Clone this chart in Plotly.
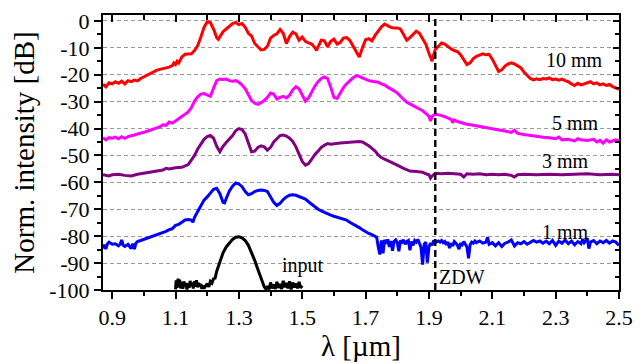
import plotly.graph_objects as go

# ---------------- data ----------------
red_x = [0.871,0.88,0.89,0.90,0.91,0.92,0.93,0.94,0.95,0.96,0.97,0.98,0.99,1.00,1.01,1.02,1.03,1.04,1.05,1.06,1.07,1.08,1.09,1.095,1.10,1.105,1.11,1.12,1.13,1.14,1.15,1.16,1.17,1.18,1.19,1.20,1.21,1.22,1.23,1.235,1.24,1.25,1.26,1.27,1.28,1.29,1.30,1.31,1.32,1.33,1.34,1.35,1.36,1.37,1.38,1.39,1.40,1.41,1.42,1.43,1.44,1.45,1.46,1.47,1.48,1.49,1.50,1.51,1.52,1.53,1.54,1.545,1.55,1.56,1.57,1.58,1.59,1.60,1.61,1.62,1.63,1.64,1.65,1.66,1.67,1.68,1.69,1.70,1.71,1.72,1.73,1.74,1.75,1.76,1.77,1.78,1.79,1.80,1.81,1.82,1.83,1.84,1.85,1.86,1.87,1.88,1.89,1.90,1.91,1.915,1.92,1.93,1.94,1.95,1.96,1.97,1.98,1.99,2.00,2.01,2.02,2.03,2.04,2.05,2.06,2.07,2.08,2.09,2.10,2.11,2.12,2.13,2.14,2.15,2.16,2.17,2.18,2.19,2.20,2.21,2.22,2.23,2.24,2.25,2.26,2.27,2.28,2.29,2.30,2.31,2.32,2.33,2.34,2.35,2.36,2.37,2.38,2.39,2.40,2.41,2.42,2.43,2.44,2.45,2.46,2.47,2.48,2.49,2.50]
red_y = [-23.5,-24.5,-23.0,-23.4,-22.6,-23.2,-22.4,-23.4,-22.2,-22.6,-22.0,-22.3,-21.4,-20.8,-20.2,-19.4,-18.8,-18.4,-18.0,-17.8,-17.6,-17.2,-16.6,-15.6,-16.2,-15.0,-15.6,-13.4,-12.4,-12.4,-12.2,-11.0,-9.2,-6.0,-2.4,-0.3,-0.6,-3.0,-6.2,-6.8,-5.8,-4.0,-3.0,-1.8,-1.0,-0.6,-1.4,-1.0,-2.4,-4.6,-5.6,-8.4,-9.6,-10.8,-10.6,-9.4,-6.4,-5.4,-4.8,-3.2,-4.6,-8.4,-5.8,-4.2,-4.8,-7.2,-6.0,-7.6,-8.2,-8.6,-10.0,-11.0,-9.6,-7.2,-7.4,-9.6,-7.6,-6.8,-8.6,-8.0,-6.4,-6.2,-7.2,-9.4,-11.6,-13.4,-10.0,-7.0,-6.6,-7.4,-5.4,-3.8,-2.2,-1.2,-1.8,-2.4,-2.6,-2.6,-3.0,-5.0,-7.2,-6.2,-5.0,-3.8,-4.6,-6.6,-8.6,-12.0,-15.0,-12.4,-10.6,-9.4,-8.2,-8.6,-9.6,-10.4,-11.0,-11.4,-12.6,-14.2,-16.2,-15.6,-14.0,-13.2,-12.6,-12.2,-12.6,-12.4,-14.2,-16.8,-18.8,-18.2,-16.8,-16.0,-15.6,-16.0,-16.6,-17.4,-19.0,-20.2,-21.4,-21.9,-21.5,-21.8,-21.4,-21.6,-21.2,-21.8,-21.6,-22.0,-21.6,-22.2,-22.6,-23.4,-24.0,-23.2,-23.8,-23.4,-23.0,-22.6,-23.4,-23.0,-23.8,-23.4,-24.0,-23.6,-24.4,-24.8,-25.4]

mag_x = [0.871,0.88,0.89,0.90,0.91,0.92,0.93,0.94,0.95,0.96,0.97,0.98,0.99,1.00,1.01,1.02,1.03,1.04,1.05,1.06,1.07,1.08,1.09,1.10,1.11,1.12,1.13,1.14,1.15,1.16,1.17,1.18,1.19,1.20,1.21,1.22,1.23,1.24,1.25,1.26,1.27,1.28,1.29,1.30,1.31,1.32,1.33,1.34,1.35,1.36,1.37,1.38,1.39,1.40,1.41,1.42,1.43,1.44,1.45,1.46,1.47,1.48,1.49,1.50,1.51,1.52,1.53,1.54,1.55,1.56,1.57,1.58,1.59,1.60,1.61,1.62,1.63,1.64,1.65,1.66,1.67,1.68,1.69,1.70,1.71,1.72,1.73,1.74,1.75,1.76,1.77,1.78,1.79,1.80,1.81,1.82,1.83,1.84,1.85,1.86,1.87,1.88,1.89,1.90,1.905,1.91,1.92,1.93,1.94,1.95,1.96,1.97,1.975,1.98,1.99,2.00,2.02,2.04,2.06,2.08,2.10,2.12,2.14,2.16,2.17,2.18,2.20,2.22,2.24,2.26,2.28,2.30,2.31,2.32,2.34,2.36,2.37,2.38,2.40,2.42,2.43,2.44,2.45,2.46,2.47,2.48,2.49,2.50]
mag_y = [-43.4,-44.2,-43.4,-43.6,-43.2,-43.8,-43.0,-43.6,-43.0,-42.8,-42.4,-42.0,-41.8,-41.4,-41.0,-40.6,-40.2,-39.8,-39.4,-38.6,-38.8,-37.6,-38.0,-37.2,-36.4,-35.6,-34.6,-33.8,-32.2,-29.8,-28.2,-27.2,-27.0,-27.4,-28.0,-25.0,-22.2,-21.6,-21.8,-21.6,-22.2,-22.4,-22.2,-22.8,-23.8,-25.2,-27.6,-29.6,-30.6,-31.0,-30.4,-29.6,-28.4,-26.8,-27.2,-29.0,-28.4,-28.0,-28.6,-27.6,-25.6,-24.4,-25.2,-27.6,-29.8,-28.6,-26.4,-24.2,-22.6,-21.4,-20.8,-21.4,-24.6,-28.4,-28.8,-26.6,-24.8,-23.4,-22.2,-21.2,-20.4,-20.6,-21.2,-21.8,-22.2,-22.4,-22.6,-22.8,-23.4,-23.8,-24.6,-25.2,-26.0,-26.8,-28.2,-29.2,-30.2,-30.8,-31.6,-32.2,-32.8,-33.4,-34.4,-35.4,-37.2,-35.4,-34.6,-34.8,-35.2,-35.6,-36.0,-36.6,-37.8,-36.8,-37.4,-37.8,-38.4,-38.8,-39.2,-39.8,-40.2,-40.6,-41.0,-41.4,-40.6,-41.8,-42.2,-42.6,-43.0,-43.2,-43.4,-43.8,-43.2,-44.2,-44.0,-44.6,-43.8,-44.2,-44.4,-44.0,-45.0,-44.4,-45.4,-44.2,-45.0,-44.6,-44.2,-44.6]

pur_x = [0.871,0.89,0.90,0.92,0.94,0.96,0.98,1.00,1.02,1.04,1.06,1.07,1.08,1.10,1.12,1.14,1.15,1.16,1.17,1.18,1.19,1.20,1.21,1.22,1.23,1.24,1.25,1.26,1.27,1.28,1.29,1.30,1.31,1.32,1.33,1.34,1.35,1.36,1.37,1.38,1.39,1.40,1.41,1.42,1.43,1.44,1.45,1.46,1.47,1.48,1.49,1.50,1.51,1.52,1.53,1.54,1.55,1.56,1.57,1.58,1.59,1.60,1.62,1.64,1.66,1.68,1.69,1.70,1.71,1.72,1.73,1.74,1.75,1.76,1.78,1.80,1.82,1.84,1.86,1.88,1.89,1.90,1.905,1.91,1.92,1.94,1.96,1.98,2.00,2.01,2.02,2.04,2.06,2.08,2.10,2.12,2.14,2.16,2.17,2.18,2.20,2.24,2.28,2.32,2.36,2.40,2.44,2.48,2.50]
pur_y = [-57.2,-57.6,-57.2,-57.0,-57.4,-57.6,-57.0,-56.6,-56.2,-55.8,-55.4,-54.8,-55.0,-54.6,-54.4,-53.4,-51.8,-50.0,-47.6,-45.6,-44.0,-43.0,-42.6,-43.6,-46.6,-48.6,-46.6,-45.2,-44.0,-42.6,-40.8,-40.0,-40.4,-42.0,-45.4,-48.6,-48.4,-47.0,-46.4,-46.8,-48.0,-47.0,-45.0,-43.6,-42.6,-42.4,-42.8,-43.6,-44.8,-46.8,-49.4,-52.2,-53.6,-53.0,-51.4,-49.6,-48.4,-47.0,-46.2,-45.6,-45.8,-45.6,-45.4,-45.2,-45.0,-44.8,-45.0,-45.6,-46.4,-47.4,-48.4,-49.8,-50.8,-51.4,-52.4,-53.6,-54.8,-55.8,-56.0,-56.2,-56.8,-57.2,-58.4,-57.6,-56.6,-56.8,-56.6,-56.8,-57.0,-58.0,-56.8,-57.0,-56.8,-57.2,-57.0,-57.2,-57.0,-57.4,-58.0,-57.2,-57.0,-57.2,-57.0,-57.2,-57.0,-56.8,-57.2,-57.0,-57.2]

blue_x = [0.871,0.875,0.88,0.885,0.89,0.90,0.91,0.92,0.925,0.93,0.935,0.94,0.95,0.96,0.965,0.97,0.975,0.98,0.99,1.00,1.01,1.02,1.03,1.04,1.05,1.06,1.07,1.08,1.09,1.10,1.11,1.12,1.13,1.14,1.15,1.155,1.16,1.17,1.18,1.19,1.20,1.21,1.22,1.23,1.24,1.25,1.255,1.26,1.27,1.28,1.29,1.30,1.31,1.32,1.33,1.34,1.35,1.36,1.37,1.38,1.39,1.40,1.41,1.42,1.43,1.44,1.45,1.46,1.47,1.48,1.49,1.50,1.51,1.52,1.53,1.54,1.55,1.56,1.57,1.58,1.59,1.60,1.61,1.62,1.63,1.64,1.65,1.66,1.67,1.68,1.69,1.70,1.71,1.72,1.73,1.735,1.74,1.745,1.75,1.755,1.76,1.765,1.77,1.775,1.78,1.785,1.79,1.795,1.80,1.805,1.81,1.815,1.82,1.825,1.83,1.835,1.84,1.845,1.85,1.855,1.86,1.865,1.87,1.875,1.88,1.885,1.89,1.895,1.90,1.905,1.91,1.915,1.92,1.93,1.935,1.94,1.945,1.95,1.955,1.96,1.965,1.97,1.975,1.98,1.985,1.99,1.995,2.00,2.005,2.01,2.015,2.02,2.025,2.03,2.035,2.04,2.045,2.05,2.06,2.07,2.08,2.085,2.09,2.10,2.11,2.12,2.13,2.14,2.15,2.16,2.17,2.18,2.19,2.20,2.21,2.22,2.23,2.24,2.25,2.26,2.27,2.28,2.29,2.30,2.31,2.32,2.33,2.34,2.35,2.36,2.37,2.38,2.385,2.39,2.40,2.405,2.41,2.42,2.43,2.44,2.45,2.46,2.47,2.48,2.49,2.50]
blue_y = [-84.6,-83.2,-84.8,-82.8,-82.2,-83.0,-82.8,-83.6,-83.0,-81.4,-83.4,-83.8,-83.0,-84.6,-82.8,-84.8,-82.6,-82.0,-81.6,-81.2,-80.6,-80.2,-79.8,-79.4,-79.0,-78.6,-78.2,-77.6,-77.2,-76.0,-75.6,-74.8,-74.0,-73.8,-74.0,-74.8,-73.0,-70.8,-68.4,-66.6,-65.4,-64.0,-62.6,-62.2,-64.2,-67.4,-67.6,-66.0,-63.2,-61.4,-60.2,-60.6,-61.6,-63.4,-64.6,-64.2,-63.4,-63.0,-62.8,-63.0,-63.4,-65.4,-67.4,-68.6,-67.8,-66.4,-65.4,-64.8,-64.6,-64.8,-65.2,-65.6,-66.2,-67.2,-68.2,-69.2,-70.0,-70.6,-71.2,-71.8,-72.2,-72.6,-73.0,-73.2,-73.6,-74.0,-74.8,-75.4,-76.2,-76.8,-77.6,-78.4,-79.0,-79.4,-80.0,-80.4,-84.0,-86.8,-81.6,-86.4,-81.4,-82.8,-81.2,-84.0,-81.8,-85.4,-82.0,-81.4,-82.4,-85.6,-81.6,-82.2,-81.4,-83.0,-82.0,-81.6,-85.2,-82.0,-83.4,-81.6,-82.2,-81.2,-82.6,-84.2,-90.6,-83.0,-82.2,-89.8,-84.0,-82.6,-83.4,-81.6,-82.4,-81.8,-82.2,-81.6,-82.4,-82.0,-83.2,-82.2,-84.4,-82.6,-83.6,-82.0,-82.6,-83.4,-84.8,-82.6,-83.2,-82.0,-83.0,-84.0,-88.2,-83.2,-82.2,-82.6,-81.8,-82.4,-81.8,-82.6,-82.2,-80.4,-83.0,-82.4,-83.6,-82.4,-83.8,-82.6,-82.2,-81.4,-83.6,-82.4,-82.8,-82.0,-83.0,-82.4,-81.6,-82.2,-81.8,-82.6,-81.8,-82.8,-81.6,-83.4,-81.8,-82.6,-81.4,-82.8,-81.8,-83.2,-82.0,-82.8,-81.2,-82.4,-80.8,-84.6,-82.2,-81.6,-82.8,-81.8,-82.4,-81.6,-82.6,-81.8,-82.2,-83.4]

inp_x = [1.100,1.102,1.105,1.108,1.11,1.113,1.116,1.12,1.123,1.126,1.13,1.133,1.136,1.14,1.143,1.146,1.15,1.153,1.156,1.16,1.163,1.166,1.17,1.173,1.176,1.18,1.183,1.186,1.19,1.195,1.20,1.205,1.21,1.215,1.22,1.225,1.23,1.24,1.25,1.26,1.27,1.28,1.29,1.30,1.31,1.32,1.33,1.34,1.35,1.36,1.37,1.375,1.38,1.385,1.39,1.395,1.40,1.405,1.41,1.415,1.42,1.425,1.43,1.435,1.44,1.445,1.45,1.455,1.46,1.465,1.47,1.475,1.48,1.485,1.49,1.495,1.50]
inp_y = [-99.8,-96.4,-99.2,-95.8,-98.6,-96.2,-99.4,-97.0,-99.6,-96.8,-98.8,-97.4,-99.8,-97.6,-99.2,-96.6,-98.6,-97.2,-99.4,-96.8,-98.8,-96.4,-99.0,-97.4,-98.6,-97.8,-99.6,-98.4,-99.4,-98.2,-97.6,-98.8,-96.8,-97.4,-95.8,-95.6,-93.0,-89.6,-86.2,-84.0,-82.6,-81.2,-80.4,-80.2,-80.6,-81.6,-83.4,-86.0,-89.0,-92.4,-95.6,-97.4,-98.8,-99.6,-98.6,-99.8,-97.2,-99.4,-98.0,-99.6,-97.0,-99.2,-97.8,-99.6,-96.6,-99.0,-97.4,-99.4,-96.8,-99.8,-97.2,-99.0,-97.6,-99.4,-97.0,-99.2,-98.4]

zdw = 1.92

x_tickvals = [0.9, 1.1, 1.3, 1.5, 1.7, 1.9, 2.1, 2.3, 2.5]
x_ticktext = ["0.9", "1.1", "1.3", "1.5", "1.7", "1.9", "2.1", "2.3", "2.5"]
x_minorvals = [1.0, 1.2, 1.4, 1.6, 1.8, 2.0, 2.2, 2.4]
y_tickvals = [0, -10, -20, -30, -40, -50, -60, -70, -80, -90, -100]
y_ticktext = ["0", "-10", "-20", "-30", "-40", "-50", "-60", "-70", "-80", "-90", "-100"]
y_minorvals = [-5, -15, -25, -35, -45, -55, -65, -75, -85, -95]

labels = ["10 mm", "5 mm", "3 mm", "1 mm", "input", "ZDW"]
label_x = [2.36, 2.362, 2.332, 2.331, 1.5025, 2.003]
label_y = [-14.6, -38.0, -52.0, -78.3, -91.0, -95.2]

x_range = [0.871, 2.5]
y_range = [-100, 2.2]

FONT = "Liberation Serif"

# ---------------- figure ----------------
fig = go.Figure()
series = [
    (inp_x, inp_y, "black"),
    (blue_x, blue_y, "#0000ff"),
    (pur_x, pur_y, "#800080"),
    (mag_x, mag_y, "#ff00ff"),
    (red_x, red_y, "#ff0000"),
]
for xs, ys, col in series:
    fig.add_trace(go.Scatter(x=xs, y=ys, mode="lines",
                             line=dict(color=col, width=3),
                             showlegend=False, hoverinfo="skip"))

# invisible trace to host mirrored (top / right) axes
fig.add_trace(go.Scatter(x=[], y=[], xaxis="x2", yaxis="y2", showlegend=False))

fig.add_shape(type="line", x0=zdw, x1=zdw, y0=0, y1=1, xref="x", yref="paper",
              line=dict(color="black", width=2.4, dash="7px,4px"))

for t, lx, ly in zip(labels, label_x, label_y):
    fig.add_annotation(x=lx, y=ly, text=t, showarrow=False,
                       xanchor="center", yanchor="middle",
                       font=dict(family=FONT, size=20, color="black"))

fig.update_layout(
    width=642, height=364,
    margin=dict(l=103, r=16, t=9, b=73),
    paper_bgcolor="white", plot_bgcolor="white",
    font=dict(family=FONT, size=22, color="black"),
    xaxis=dict(range=x_range, tickmode="array", tickvals=x_tickvals, ticktext=x_ticktext,
               ticks="outside", ticklen=7, tickwidth=2, tickcolor="black",
               showline=True, linewidth=2, linecolor="black", showgrid=False, zeroline=False,
               minor=dict(tickmode="array", tickvals=x_minorvals, ticks="outside",
                          ticklen=4, tickwidth=2, tickcolor="black", showgrid=False),
               tickfont=dict(family=FONT, size=22, color="black"),
               title=dict(text="λ [µm]", font=dict(family=FONT, size=29, color="black"),
                          standoff=4)),
    yaxis=dict(range=y_range, tickmode="array", tickvals=y_tickvals, ticktext=y_ticktext,
               ticks="outside", ticklen=7, tickwidth=2, tickcolor="black",
               showline=True, linewidth=2, linecolor="black", zeroline=False,
               showgrid=True, gridcolor="#9a9a9a", gridwidth=1, griddash="4px,3px",
               minor=dict(tickmode="array", tickvals=y_minorvals, ticks="outside",
                          ticklen=4, tickwidth=2, tickcolor="black", showgrid=False),
               tickfont=dict(family=FONT, size=22, color="black"),
               title=dict(text="Norm. intensity [dB]",
                          font=dict(family=FONT, size=29, color="black"), standoff=6)),
    xaxis2=dict(range=x_range, overlaying="x", anchor="y", side="top",
                tickmode="array", tickvals=x_tickvals, showticklabels=False,
                ticks="inside", ticklen=7, tickwidth=2, tickcolor="black",
                showline=True, linewidth=2, linecolor="black", showgrid=False, zeroline=False,
                minor=dict(tickmode="array", tickvals=x_minorvals, ticks="inside",
                           ticklen=5, tickwidth=2, tickcolor="black", showgrid=False)),
    yaxis2=dict(range=y_range, overlaying="y", anchor="x", side="right",
                tickmode="array", tickvals=y_tickvals, showticklabels=False,
                ticks="inside", ticklen=6, tickwidth=2, tickcolor="black",
                showline=True, linewidth=2, linecolor="black", showgrid=False, zeroline=False,
                minor=dict(tickmode="array", tickvals=y_minorvals, ticks="inside",
                           ticklen=4, tickwidth=2, tickcolor="black", showgrid=False)),
)

fig.write_html("out.html")
